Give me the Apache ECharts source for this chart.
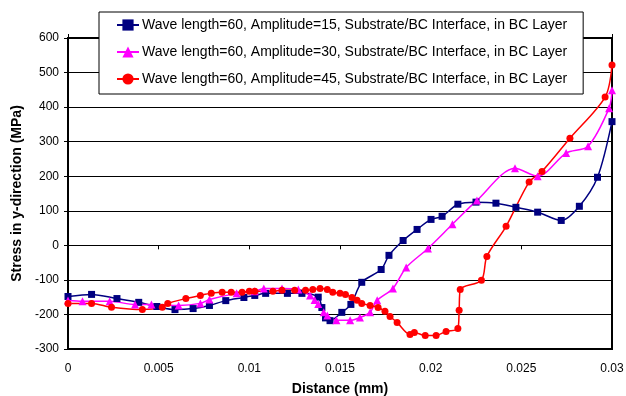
<!DOCTYPE html>
<html>
<head>
<meta charset="utf-8">
<script src="https://cdn.jsdelivr.net/npm/echarts@6/dist/echarts.min.js"></script>
<style>html,body{margin:0;padding:0;background:#fff}#c{width:626px;height:396px}</style>
</head>
<body>
<div id="c"></div>
<script>
var seriesNames = [
  "Wave length=60, Amplitude=15, Substrate/BC Interface, in BC Layer",
  "Wave length=60, Amplitude=30, Substrate/BC Interface, in BC Layer",
  "Wave length=60, Amplitude=45, Substrate/BC Interface, in BC Layer"
];
var xTickLabels = ["0","0.005","0.01","0.015","0.02","0.025","0.03"];
var yTickLabels = ["-300","-200","-100","0","100","200","300","400","500","600"];

var amp15X = [0,0.0013,0.0027,0.0039,0.0049,0.0059,0.0069,0.0078,0.0087,0.0097,0.0103,0.0109,0.0121,0.0129,0.0138,0.0140,0.0142,0.01445,0.0151,0.0156,0.0162,0.01727,0.0177,0.01848,0.01925,0.02002,0.02063,0.0215,0.0225,0.0236,0.0247,0.0259,0.0272,0.0282,0.0292,0.0300];
var amp15Y = [-148,-142,-154,-165,-177,-186,-183,-174,-160,-151,-145,-139,-139,-139,-150,-180,-210,-218,-194,-171,-107,-70,-29,14,46,75,84,119,125,122,110,96,72,113,197,358];

var amp30X = [0,0.0008,0.0023,0.0037,0.0046,0.0061,0.0073,0.0078,0.0093,0.0103,0.0108,0.0118,0.0127,0.01335,0.0136,0.0138,0.0141,0.0143,0.0148,0.01556,0.0161,0.01666,0.01705,0.01792,0.01865,0.01985,0.0212,0.02255,0.02465,0.0259,0.02747,0.02868,0.02984,0.0300];
var amp30Y = [-160,-162,-162,-171,-171,-174,-168,-157,-139,-133,-125,-125,-128,-145,-158,-170,-194,-203,-217,-217,-209,-194,-159,-125,-64,-9,61,130,223,200,267,287,397,449];

var amp45X = [0,0.0013,0.0024,0.0041,0.0052,0.0055,0.0065,0.0073,0.0079,0.0085,0.0090,0.0096,0.0100,0.0103,0.0113,0.0118,0.0125,0.0131,0.0135,0.0139,0.0143,0.0146,0.0150,0.0153,0.01566,0.01594,0.0162,0.01666,0.0171,0.01748,0.01776,0.01815,0.01886,0.0191,0.0197,0.0203,0.02085,0.0215,0.02157,0.02163,0.0228,0.0231,0.02416,0.02543,0.02614,0.02768,0.02962,0.0300];
var amp45Y = [-168,-168,-179,-186,-179,-168,-154,-145,-139,-136,-136,-136,-133,-133,-133,-130,-130,-130,-128,-125,-128,-136,-139,-142,-151,-159,-168,-174,-180,-191,-206,-223,-258,-252,-261,-261,-249,-241,-188,-128,-101,-32,55,183,214,310,429,522];

function pairs(xs, ys){ return xs.map(function(x,i){ return [x, ys[i]]; }); }

var chart = echarts.init(document.getElementById('c'), null, {renderer:'canvas'});
var font = 'Arial, "Liberation Sans", sans-serif';
chart.setOption({
  animation: false,
  backgroundColor: '#fff',
  textStyle: {fontFamily: font},
  grid: {left: 68, right: 14, top: 38, bottom: 47, show: true, borderColor: '#000', borderWidth: 2, containLabel: false, outerBoundsMode: 'none'},
  legend: {
    orient: 'vertical', left: 99, top: 12,
    padding: [6, 16, 8, 17],
    backgroundColor: '#fff',
    borderColor: '#000', borderWidth: 1,
    itemWidth: 22, itemHeight: 14, itemGap: 13,
    textStyle: {fontFamily: font, fontSize: 14, color: '#000', padding: [0,0,0,-2]},
    data: seriesNames
  },
  xAxis: [{
    type: 'value', min: 0, max: 0.03, interval: 0.005,
    position: 'bottom',
    axisLine: {show: true, onZero: false, lineStyle: {color: '#000', width: 2}},
    axisTick: {show: false},
    splitLine: {show: false},
    axisLabel: {color: '#000', fontSize: 12, fontFamily: font, margin: 14,
      formatter: function(v){ var i = Math.round(v/0.005); return xTickLabels[i]; }},
    name: 'Distance (mm)', nameLocation: 'middle', nameGap: 33,
    nameTextStyle: {fontWeight: 'bold', fontSize: 14, color: '#000', fontFamily: font}
  },{
    type: 'value', min: 0, max: 0.03, interval: 0.005, position: 'bottom',
    axisLine: {show: true, onZero: true, lineStyle: {color: '#000', width: 1}},
    axisTick: {show: true, length: 4, lineStyle: {color: '#000'}},
    axisLabel: {show: false}, splitLine: {show: false}
  },{
    type: 'value', min: 0, max: 0.03, interval: 0.005, position: 'top',
    axisLine: {show: false, onZero: true},
    axisTick: {show: true, length: 4, lineStyle: {color: '#000'}},
    axisLabel: {show: false}, splitLine: {show: false}
  }],
  yAxis: {
    type: 'value', min: -300, max: 600, interval: 100,
    axisLine: {show: true, lineStyle: {color: '#000', width: 2}},
    axisTick: {show: true, length: 4, lineStyle: {color: '#000'}},
    splitLine: {show: true, lineStyle: {color: '#000', width: 1}},
    axisLabel: {color: '#000', fontSize: 12, fontFamily: font, margin: 9,
      formatter: function(v){ var i = Math.round((v+300)/100); return yTickLabels[i]; }},
    name: 'Stress in y-direction (MPa)', nameLocation: 'middle', nameGap: 40, nameRotate: 90,
    nameTextStyle: {fontWeight: 'bold', fontSize: 14, color: '#000', fontFamily: font}
  },
  series: [{
    name: seriesNames[0], type: 'line', xAxisIndex: 0,
    data: pairs(amp15X, amp15Y), smooth: 0.3,
    symbol: 'rect', symbolSize: 7,
    itemStyle: {color: '#000080'}, lineStyle: {color: '#000080', width: 1.5}
  },{
    name: seriesNames[1], type: 'line', xAxisIndex: 0,
    data: pairs(amp30X, amp30Y), smooth: 0.3,
    symbol: 'triangle', symbolSize: 8,
    itemStyle: {color: '#FF00FF'}, lineStyle: {color: '#FF00FF', width: 1.5}
  },{
    name: seriesNames[2], type: 'line', xAxisIndex: 0,
    data: pairs(amp45X, amp45Y), smooth: 0.3,
    symbol: 'circle', symbolSize: 7,
    itemStyle: {color: '#FF0000'}, lineStyle: {color: '#FF0000', width: 1.5}
  }]
});
</script>
</body>
</html>
